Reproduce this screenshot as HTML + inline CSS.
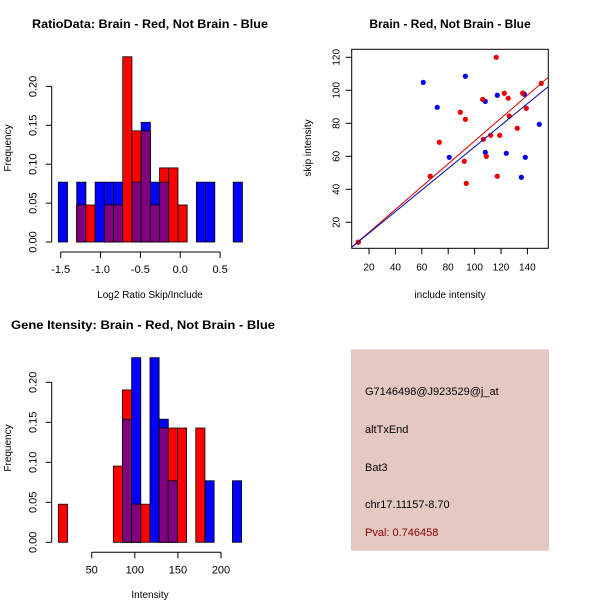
<!DOCTYPE html>
<html><head><meta charset="utf-8"><style>
body{margin:0;background:#fff}
svg{display:block;font-family:"Liberation Sans",sans-serif}
</style></head><body>
<svg id="c" width="600" height="600" viewBox="0 0 600 600">
<rect width="600" height="600" fill="#fff"/>
<rect x="351" y="349.3" width="198" height="201.4" fill="#e6c8c2"/>
<text x="365" y="395" font-size="11">G7146498@J923529@j_at</text>
<text x="365" y="433" font-size="11">altTxEnd</text>
<text x="365" y="471" font-size="11">Bat3</text>
<text x="365" y="508" font-size="11">chr17.11157-8.70</text>
<text x="365" y="536" font-size="11" fill="#8b0000">Pval: 0.746458</text>
</svg>
<script>
// ---- Ratio histogram data (counts) ----
const ratioBinStart = -1.53;
const ratioBinWidth = 0.1155;
const ratioBlueCounts = [2,0,2,0,2,2,2,0,2,4,2,2,0,0,0,2,2,0,0,2];
const ratioRedCounts  = [0,0,1,1,0,1,1,5,3,3,1,2,2,1,0,0,0,0,0,0];
const ratioXTicks = [-1.5,-1.0,-0.5,0.0,0.5];
const ratioYTicks = [0,0.05,0.10,0.15,0.20];
// ---- Intensity histogram data (counts) ----
const intBinStart = 11.3;
const intBinWidth = 10.63;
const intBlueCounts = [0,0,0,0,0,0,0,4,6,0,6,4,2,0,0,0,2,0,0,2];
const intRedCounts  = [1,0,0,0,0,0,2,4,1,1,0,3,3,3,0,3,0,0,0,0];
const intXTicks = [50,100,150,200];
const intYTicks = [0,0.05,0.10,0.15,0.20];
// ---- Scatter data ----
const redX = [11.9,116.4,106.1,122.5,125.5,136.4,150.5,139.2,89.2,93,126.3,132.3,106.6,112.2,119,73.3,108.9,92.2,66.4,117.2,93.7];
const redY = [8,120,94.5,98.2,95.2,98.2,104.2,89.1,86.7,82.4,84.4,77,70.3,72.7,72.7,68.5,60,57,47.9,47.9,43.6];
const blueX = [11.9,61.1,93,71.7,108.1,117.2,136.7,137.7,149,80.8,108.1,124,138.4,135.4];
const blueY = [8,104.8,108.5,89.7,93.3,97,98.2,97.6,79.4,59.4,62.4,61.8,59.4,47.3];
const redLine = [0.07,0.692];   // intercept, slope
const blueLine = [0.34,0.654];
const scatXTicks = [20,40,60,80,100,120,140];
const scatYTicks = [20,40,60,80,100,120];

const svg = document.getElementById('c');
const NS = 'http://www.w3.org/2000/svg';
function mk(tag, attrs){const e=document.createElementNS(NS,tag);for(const k in attrs)e.setAttribute(k,attrs[k]);svg.appendChild(e);return e;}
function txt(x,y,s,size,extra){const t=mk('text',Object.assign({x:x,y:y,'font-size':size,'text-anchor':'middle'},extra||{}));t.textContent=s;return t;}

function hist(o){
  const X=v=>o.x0px+(v-o.x0v)*o.xs, Y=v=>o.base-v/0.05*o.ys;
  const nb=o.blue.reduce((a,b)=>a+b,0), nr=o.red.reduce((a,b)=>a+b,0);
  for(let i=0;i<o.blue.length;i++){
    const l=X(o.bs+i*o.bw), r=X(o.bs+(i+1)*o.bw);
    const fb=o.blue[i]/nb, fr=o.red[i]/nr;
    const draw=(f,col,nm)=>{ if(f<=0)return; const e=mk('rect',{x:l,y:Y(f),width:r-l,height:o.base-Y(f),fill:col,stroke:'#000','stroke-width':0.8});
      
       };
    draw(fb,'#0000ff',o.p+'-blue-bar-'+i);
    draw(fr,'#ff0000',o.p+'-red-bar-'+i);
    if(fb>0&&fr>0) draw(Math.min(fb,fr),'#800080',o.p+'-overlap-bar-'+i);
  }
  const yt=o.yticks;
  let a=mk('line',{x1:o.yax,x2:o.yax,y1:Y(yt[0]),y2:Y(yt[yt.length-1]),stroke:'#000'});
  
  
  yt.forEach(v=>{mk('line',{x1:o.yax-6,x2:o.yax,y1:Y(v),y2:Y(v),stroke:'#000'});
    const t=txt(o.yax-15,Y(v),v.toFixed(2),11,{transform:`rotate(-90 ${o.yax-15} ${Y(v)})`});
    
    });
  const xt=o.xticks, ay=o.base+10;
  a=mk('line',{x1:X(xt[0]),x2:X(xt[xt.length-1]),y1:ay,y2:ay,stroke:'#000'});
  
  
  xt.forEach(v=>{mk('line',{x1:X(v),x2:X(v),y1:ay,y2:ay+6,stroke:'#000'});
    const t=txt(X(v),ay+21,o.fmt(v),11);
    
    });
}
hist({p:'ratio',blue:ratioBlueCounts,red:ratioRedCounts,bs:ratioBinStart,bw:ratioBinWidth,x0px:60.7,x0v:-1.5,xs:79.7,base:242,ys:38.9,yax:51.7,yticks:ratioYTicks,xticks:ratioXTicks,fmt:v=>v.toFixed(1)});
hist({p:'intensity',blue:intBlueCounts,red:intRedCounts,bs:intBinStart,bw:intBinWidth,x0px:91.7,x0v:50,xs:0.862,base:542.3,ys:40,yax:51.7,yticks:intYTicks,xticks:intXTicks,fmt:v=>String(v)});

let t;
t=txt(150,28,'RatioData: Brain - Red, Not Brain - Blue',12,{'font-weight':'bold',textLength:236,lengthAdjust:'spacingAndGlyphs'});


t=txt(150,298,'Log2 Ratio Skip/Include',10);


t=txt(11,148,'Frequency',10,{transform:'rotate(-90 11 148)'});


t=txt(143,329,'Gene Itensity: Brain - Red, Not Brain - Blue',12,{'font-weight':'bold',textLength:264,lengthAdjust:'spacingAndGlyphs'});


t=txt(150,598,'Intensity',10);


t=txt(11,448,'Frequency',10,{transform:'rotate(-90 11 448)'});


t=txt(450,28,'Brain - Red, Not Brain - Blue',12,{'font-weight':'bold'});


t=txt(450,298,'include intensity',10);


t=txt(311,148,'skip intensity',10,{transform:'rotate(-90 311 148)'});



const SX=v=>369+(v-20)*1.32, SY=v=>222.3-(v-20)*1.65;
const L=351.7,R=548.3,T=49.3,B=248.3;
const box=mk('rect',{x:L,y:T,width:R-L,height:B-T,fill:'none',stroke:'#000'});


scatXTicks.forEach(v=>{mk('line',{x1:SX(v),x2:SX(v),y1:B,y2:B+6,stroke:'#000'});
  const e=txt(SX(v),B+22,String(v),10);
  
  });
scatYTicks.forEach(v=>{mk('line',{x1:L-6,x2:L,y1:SY(v),y2:SY(v),stroke:'#000'});
  const e=txt(L-12,SY(v),String(v),10,{transform:`rotate(-90 ${L-12} ${SY(v)})`});
  
  });
blueX.forEach((x,i)=>{const c=mk('circle',{cx:SX(x),cy:SY(blueY[i]),r:2.6,fill:'#0000ee'});
  
  });
redX.forEach((x,i)=>{const c=mk('circle',{cx:SX(x),cy:SY(redY[i]),r:2.6,fill:'#ee0000'});
  
  });
const x0=20+(L-369)/1.32, x1=20+(R-369)/1.32;
[[redLine,'#cc0000','red-fit-line'],[blueLine,'#0000aa','blue-fit-line']].forEach(([c,col,nm])=>{
  const l=mk('line',{x1:L,y1:SY(c[0]+c[1]*x0),x2:R,y2:SY(c[0]+c[1]*x1),stroke:col,'stroke-width':1});
  
  
});
</script>
</body></html>
